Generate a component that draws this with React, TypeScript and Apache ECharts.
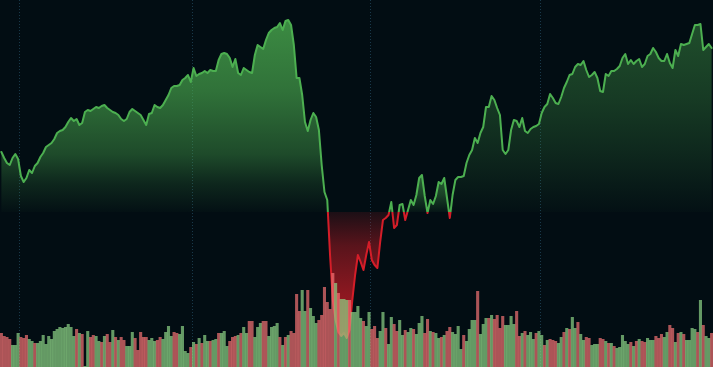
import React, { useEffect, useRef } from "react";
import * as echarts from "echarts";

// Price (baseline chart), one value per session
const price = [
  215, 209, 204, 202, 209, 213, 208, 191, 185, 189,
  197, 194, 201, 204, 210, 214, 220, 222, 224, 228,
  234, 236, 237, 240, 245, 249, 246, 248, 242, 244,
  255, 257, 256, 258, 260, 259, 261, 262, 259, 257,
  255, 254, 252, 248, 246, 248, 255, 258, 256, 254,
  252, 247, 242, 253, 254, 262, 260, 259, 262, 267,
  272, 279, 281, 281, 282, 287, 289, 292, 285, 299,
  291, 293, 294, 296, 294, 297, 296, 296, 307, 313,
  314, 313, 309, 300, 308, 294, 292, 299, 297, 295,
  294, 312, 322, 320, 318, 327, 334, 337, 339, 340,
  344, 337, 346, 347, 342, 322, 289, 289, 272, 245,
  236, 247, 254, 250, 237, 202, 175, 167, 112, 67,
  47, 35, 31, 34, 29, 37, 67, 92, 112, 105,
  97, 112, 125, 107, 102, 99, 125, 147, 149, 152,
  165, 139, 142, 162, 163, 147, 157, 167, 162, 172,
  189, 192, 171, 154, 167, 163, 171, 185, 183, 189,
  169, 149, 172, 187, 190, 190, 191, 204, 212, 217,
  229, 224, 234, 240, 260, 260, 271, 267, 259, 252,
  217, 213, 217, 237, 247, 246, 240, 249, 236, 234,
  238, 240, 241, 243, 254, 260, 263, 273, 269, 264,
  263, 270, 279, 285, 292, 293, 300, 303, 302, 306,
  297, 290, 292, 295, 289, 276, 275, 293, 291, 296,
  296, 298, 301, 309, 313, 303, 307, 303, 306, 308,
  300, 303, 311, 313, 319, 315, 309, 306, 306, 313,
  304, 299, 317, 311, 323, 322, 323, 324, 333, 342,
  342, 343, 317, 320, 323, 319,
];

// Volume per session
const volume = [
  34, 31, 30, 28, 22, 22, 34, 30, 29, 32,
  28, 26, 24, 24, 26, 32, 23, 31, 28, 36,
  38, 40, 39, 40, 43, 40, 31, 38, 34, 33,
  1, 36, 30, 32, 31, 26, 25, 31, 33, 25,
  37, 30, 27,
  30, 27, 21, 21, 35, 29, 17, 35, 30, 30,
  27, 29, 26, 27, 30, 28, 35, 41, 31, 35,
  34, 33, 41, 16, 14, 20, 25, 23, 29, 24,
  32, 26, 26, 27, 28, 34, 34, 36, 21, 26,
  30, 31, 32,
  34, 40, 34, 46, 46, 30, 40, 44, 46, 46,
  31, 40, 41, 44, 30, 22, 30, 32, 36, 34,
  73, 56, 77, 56, 77, 59, 51, 44, 47, 52,
  80, 65, 58, 94, 84, 74, 68, 68, 67, 67,
  55, 55, 61,
  49, 46, 41, 55, 38, 41, 29, 36, 55, 39,
  23, 50, 43, 36, 47, 32, 37, 35, 39, 38,
  33, 44, 51, 34, 48, 36, 35, 34, 29, 30,
  32, 36, 40, 35, 33, 41, 18, 32, 26, 38,
  47, 47, 76,
  33, 43, 49, 49, 52, 48, 52, 39, 51, 42,
  42, 51, 43, 56, 31, 34, 36, 32, 35, 28,
  34, 36, 32, 22, 27, 28, 27, 26, 24, 30,
  35, 39, 38, 50, 39, 45, 33, 27, 30, 29,
  22, 23, 23,
  29, 28, 26, 24, 24, 21, 19, 20, 32, 26,
  23, 25, 21, 26, 28, 26, 25, 29, 27, 27,
  31, 29, 33, 30, 35, 42, 39, 25, 34, 35,
  33, 27, 27, 39, 38, 35, 67, 42, 31, 29,
  34,
];

// 1 = up session (green volume bar), 0 = down session (red volume bar)
const volumeUp = [
  0, 0, 0, 0, 1, 1, 1, 0, 0, 0,
  1, 1, 0, 1, 1, 1, 1, 1, 1, 1,
  1, 1, 1, 1, 1, 1, 1, 0, 1, 0,
  1, 1, 0, 0, 1, 1, 0, 1, 0, 0,
  1, 0, 1,
  0, 0, 1, 1, 1, 0, 0, 0, 0, 0,
  1, 1, 1, 0, 0, 1, 1, 1, 1, 0,
  0, 1, 1, 1, 1, 0, 1, 0, 1, 0,
  1, 1, 0, 1, 1, 0, 1, 1, 1, 0,
  0, 0, 1,
  0, 1, 1, 0, 0, 1, 1, 1, 0, 0,
  1, 1, 1, 1, 0, 1, 0, 1, 0, 0,
  0, 0, 1, 1, 0, 1, 1, 1, 0, 0,
  0, 0, 0, 0, 1, 0, 1, 1, 1, 0,
  1, 1, 1,
  1, 0, 1, 1, 0, 0, 0, 1, 1, 0,
  1, 1, 0, 0, 1, 1, 0, 1, 1, 0,
  1, 1, 1, 0, 0, 1, 0, 1, 1, 0,
  1, 0, 0, 1, 1, 1, 1, 0, 1, 1,
  1, 1, 0,
  1, 1, 1, 0, 1, 0, 0, 0, 0, 1,
  1, 1, 1, 0, 0, 1, 0, 1, 1, 1,
  0, 1, 1, 0, 1, 0, 0, 0, 1, 1,
  0, 1, 0, 1, 1, 0, 1, 1, 0, 0,
  1, 1, 1,
  0, 0, 1, 0, 1, 0, 1, 1, 1, 1,
  1, 0, 1, 0, 1, 0, 0, 1, 1, 1,
  0, 0, 0, 1, 1, 0, 0, 1, 0, 1,
  0, 1, 1, 1, 1, 0, 1, 0, 1, 1,
  0,
];

const baseline = 155;
const priceMin = 0;
const priceMax = 367;
const volumeMax = 367;
// sessions that open a new month (vertical grid lines)
const monthStarts = [7, 69, 133, 194];
// session indices where the fill styling changes (first rally / crash & recovery / second rally)
const fillBreaks = [117, 162];

export default function App() {
  const ref = useRef<HTMLDivElement>(null);

  useEffect(() => {
    if (!ref.current) return;
    const chart = echarts.init(ref.current, null, { renderer: "svg" });
    const H = 367;
    const b = (priceMax - baseline) / (priceMax - priceMin);
    const categories = price.map((_, i) => `S${i + 1}`);
    const G = (a: number) => `rgba(76,175,80,${a})`;
    const R = (a: number) => `rgba(220,30,40,${a})`;
    const redStops = [
      { offset: b, color: R(0.12) },
      { offset: 0.67, color: R(0.4) },
      { offset: 0.8, color: R(0.63) },
      { offset: 1, color: R(0.9) },
    ];
    const grad = (stops: { offset: number; color: string }[]) =>
      new echarts.graphic.LinearGradient(0, 0, 0, H, [...stops, ...redStops], true);

    const fillLeft = grad([
      { offset: 0, color: G(0.82) },
      { offset: 0.25, color: G(0.62) },
      { offset: 0.42, color: G(0.38) },
      { offset: 0.5, color: G(0.16) },
      { offset: b, color: G(0.02) },
    ]);
    const fillMid = grad([
      { offset: 0, color: G(0.8) },
      { offset: 0.46, color: G(0.6) },
      { offset: 0.53, color: G(0.32) },
      { offset: b, color: G(0.05) },
    ]);
    const fillRight = grad([
      { offset: 0, color: G(0.42) },
      { offset: 0.07, color: G(0.4) },
      { offset: 0.27, color: G(0.28) },
      { offset: 0.41, color: G(0.17) },
      { offset: 0.52, color: G(0.07) },
      { offset: b, color: G(0.02) },
    ]);

    const part = (from: number, to: number) =>
      price.map((v, i) => (i >= from && i <= to ? v : null));
    const fillSeries = (data: (number | null)[], color: any) => ({
      type: "line",
      data,
      yAxisIndex: 0,
      symbol: "none",
      silent: true,
      connectNulls: false,
      lineStyle: { width: 0, opacity: 0 },
      areaStyle: { origin: baseline, color, opacity: 1 },
      z: 1,
    });

    const lineColor = new echarts.graphic.LinearGradient(
      0, 0, 0, H,
      [
        { offset: 0, color: "#4caf50" },
        { offset: b, color: "#4caf50" },
        { offset: b, color: "#d41d28" },
        { offset: 1, color: "#d41d28" },
      ],
      true
    );

    chart.setOption({
      animation: false,
      backgroundColor: "#020d13",
      grid: { left: 0, right: 0, top: 0, bottom: 0, containLabel: false },
      xAxis: {
        type: "category",
        data: categories,
        boundaryGap: true,
        axisLine: { show: false },
        axisTick: { show: false },
        axisLabel: { show: false },
        splitLine: {
          show: true,
          interval: (index: number) => monthStarts.includes(index),
          lineStyle: { color: "rgba(45,95,120,0.55)", width: 1, type: [1, 2] },
        },
      },
      yAxis: [
        { type: "value", min: priceMin, max: priceMax, show: false, splitLine: { show: false } },
        { type: "value", min: 0, max: volumeMax, show: false, splitLine: { show: false } },
      ],
      series: [
        fillSeries(part(0, fillBreaks[0]), fillLeft),
        fillSeries(part(fillBreaks[0], fillBreaks[1]), fillMid),
        fillSeries(part(fillBreaks[1], price.length - 1), fillRight),
        {
          type: "line",
          data: price,
          yAxisIndex: 0,
          symbol: "none",
          smooth: false,
          lineStyle: { width: 2, color: lineColor, join: "round", cap: "round" },
          z: 2,
        },
        {
          type: "bar",
          yAxisIndex: 1,
          barWidth: 3.1,
          data: volume.map((v, i) => ({
            value: v,
            itemStyle: {
              color: volumeUp[i] ? "rgba(142,214,136,0.7)" : "rgba(245,116,117,0.7)",
            },
          })),
          z: 3,
        },
      ],
    });

    return () => chart.dispose();
  }, []);

  return (
    <div
      ref={ref}
      style={{ position: "fixed", left: 0, top: 0, width: 713, height: 367 }}
    />
  );
}
